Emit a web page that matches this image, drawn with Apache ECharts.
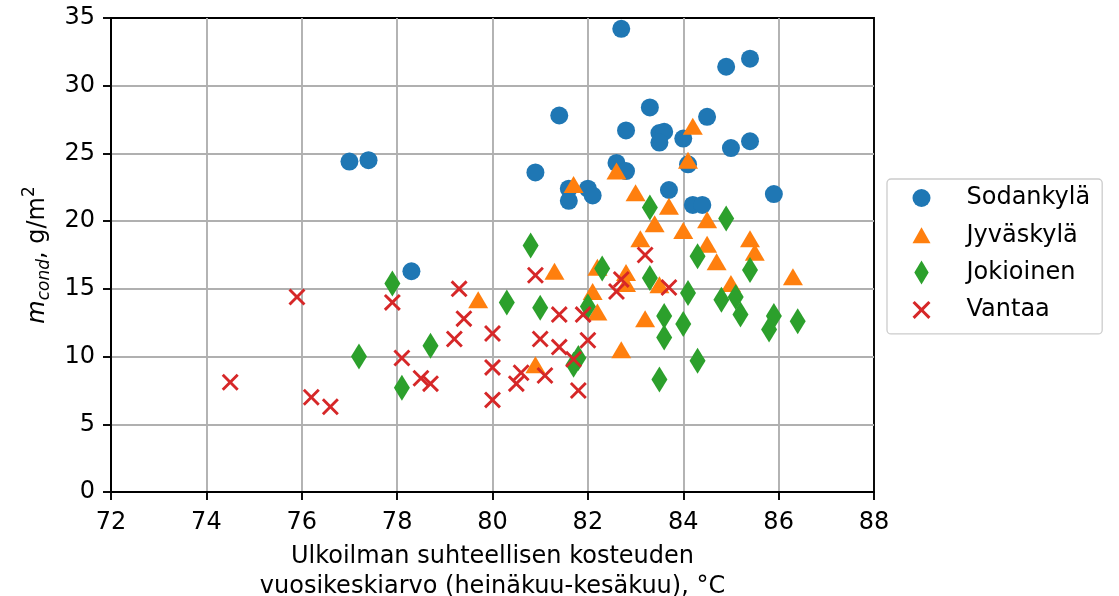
<!DOCTYPE html>
<html><head><meta charset="utf-8">
<script src="https://cdn.jsdelivr.net/npm/echarts@6/dist/echarts.min.js"></script>
<style>html,body{margin:0;padding:0;background:#fff}#c{width:1119px;height:596px}</style>
</head><body><div id="c"></div><script>
// ---- data ----
const seriesNames = ['Sodankylä', 'Jyväskylä', 'Jokioinen', 'Vantaa'];
const sodankyla = [[77.0,24.4],[77.4,24.5],[78.3,16.3],[80.9,23.6],[81.4,27.8],[81.6,22.4],[81.6,21.5],[82.0,22.4],[82.1,21.9],[82.7,34.2],[82.8,26.7],[83.3,28.4],[83.5,26.5],[83.6,26.6],[83.5,25.8],[84.0,26.1],[84.5,27.7],[84.9,31.4],[85.4,32.0],[85.0,25.4],[85.4,25.9],[82.6,24.3],[82.8,23.7],[84.1,24.2],[83.7,22.3],[84.2,21.2],[84.4,21.2],[85.9,22.0]];
const jyvaskyla = [[84.2,27.0],[84.1,24.5],[82.6,23.7],[81.7,22.7],[83.0,22.1],[83.7,21.1],[84.5,20.1],[83.4,19.8],[84.0,19.3],[83.1,18.7],[84.5,18.3],[85.4,18.7],[85.5,17.7],[84.7,17.0],[86.3,15.9],[81.3,16.3],[82.2,16.6],[82.8,16.2],[82.8,15.4],[83.5,15.3],[82.1,14.8],[82.2,13.3],[83.2,12.8],[82.7,10.5],[80.9,9.4],[85.0,15.4],[79.7,14.2]];
const jokioinen = [[83.3,21.0],[84.9,20.2],[80.8,18.2],[84.3,17.4],[82.3,16.5],[85.4,16.4],[83.3,15.8],[80.3,14.0],[81.0,13.6],[82.0,13.7],[84.1,14.7],[84.8,14.2],[85.1,14.4],[85.2,13.1],[83.6,13.0],[84.0,12.4],[83.6,11.4],[85.9,13.0],[85.8,12.0],[86.4,12.6],[84.3,9.7],[83.5,8.3],[81.8,9.9],[81.7,9.4],[77.9,15.4],[77.2,10.0],[78.1,7.7],[78.7,10.8]];
const vantaa = [[74.5,8.1],[75.9,14.4],[76.2,7.0],[76.6,6.3],[77.9,14.0],[78.1,9.9],[78.5,8.4],[78.7,8.0],[79.3,15.0],[79.4,12.8],[79.2,11.3],[80.0,11.7],[80.0,9.2],[80.0,6.8],[80.9,16.0],[81.0,11.3],[81.4,13.1],[81.4,10.7],[80.6,8.8],[80.5,8.0],[81.1,8.6],[81.9,13.1],[82.0,11.2],[81.7,9.8],[81.8,7.5],[82.6,14.8],[82.7,15.7],[83.2,17.5],[83.7,15.1]];
const xRange = [72, 88, 2];
const yRange = [0, 35, 5];
const xTitle = 'Ulkoilman suhteellisen kosteuden\nvuosikeskiarvo (heinäkuu-kesäkuu), °C';

// ---- styling ----
const FONT = 'DejaVu Sans';
const colors = ['#1f77b4', '#ff7f0e', '#2ca02c', '#d62728'];
const xPath = 'path://M12,0L50,38L88,0L100,12L62,50L100,88L88,100L50,62L12,100L0,88L38,50L0,12Z';
const triPath = 'path://M9,0L18,16L0,16Z';
const diaPath = 'path://M7.5,0L15,12.5L7.5,25L0,12.5Z';
const symbols = ['circle', 'triangle', 'diamond', xPath];
const sizes = [18, [20, 17], [16, 26], 17];
const legendIcons = ['circle', triPath, diaPath, xPath];
const datasets = [sodankyla, jyvaskyla, jokioinen, vantaa];

const axisCommon = {
  axisLine: { show: true, onZero: false, lineStyle: { color: '#000', width: 1.9 } },
  axisTick: { show: true, inside: false, length: 8, lineStyle: { color: '#000', width: 1.9 } },
  splitLine: { show: true, showMinLine: false, showMaxLine: false, lineStyle: { color: '#b0b0b0', width: 1.9 } },
};

const chart = echarts.init(document.getElementById('c'), null, { renderer: 'canvas' });
chart.setOption({
  animation: false,
  backgroundColor: '#fff',
  textStyle: { fontFamily: FONT },
  grid: { left: 111, top: 18, width: 763, height: 474, containLabel: false, outerBoundsMode: 'none',
          show: true, borderColor: '#000', borderWidth: 1.9, backgroundColor: 'transparent' },
  xAxis: Object.assign({
    type: 'value', min: xRange[0], max: xRange[1], interval: xRange[2],
    axisLabel: { color: '#000', fontSize: 24, margin: 19, fontFamily: FONT },
    name: xTitle, nameLocation: 'middle', nameGap: 50,
    nameTextStyle: { color: '#000', fontSize: 24, lineHeight: 30, fontFamily: FONT }
  }, axisCommon),
  yAxis: Object.assign({
    type: 'value', min: yRange[0], max: yRange[1], interval: yRange[2],
    axisLabel: { color: '#000', fontSize: 24, margin: 16, fontFamily: FONT },
    name: '{m|m}{sub|cond}{n|, g/m}{sup|2}', nameLocation: 'middle', nameRotate: 90, nameGap: 56,
    nameTextStyle: {
      color: '#000', fontSize: 24, fontFamily: FONT,
      rich: {
        m: { fontSize: 24, fontStyle: 'italic', color: '#000', fontFamily: FONT, verticalAlign: 'middle' },
        sub: { fontSize: 17, fontStyle: 'italic', color: '#000', fontFamily: FONT, verticalAlign: 'middle', padding: [14, 0, 0, 0] },
        n: { fontSize: 24, color: '#000', fontFamily: FONT, verticalAlign: 'middle' },
        sup: { fontSize: 17, color: '#000', fontFamily: FONT, verticalAlign: 'middle', padding: [0, 0, 16, 0] }
      }
    }
  }, axisCommon),
  legend: {
    orient: 'vertical', left: 887, top: 179,
    padding: [7, 12, 12, 25.5],
    itemWidth: 18, itemHeight: 24, itemGap: 13.3,
    borderColor: '#cccccc', borderWidth: 1.3, borderRadius: 4, backgroundColor: '#fff',
    textStyle: { fontSize: 24, color: '#000', fontFamily: FONT, padding: [0, 0, 0, 31] },
    data: seriesNames.map((n, i) => ({ name: n, icon: legendIcons[i] }))
  },
  series: seriesNames.map((n, i) => ({
    name: n, type: 'scatter', data: datasets[i],
    symbol: symbols[i], symbolSize: sizes[i],
    itemStyle: { color: colors[i], opacity: 1 },
    emphasis: { disabled: true }
  }))
});
</script></body></html>
